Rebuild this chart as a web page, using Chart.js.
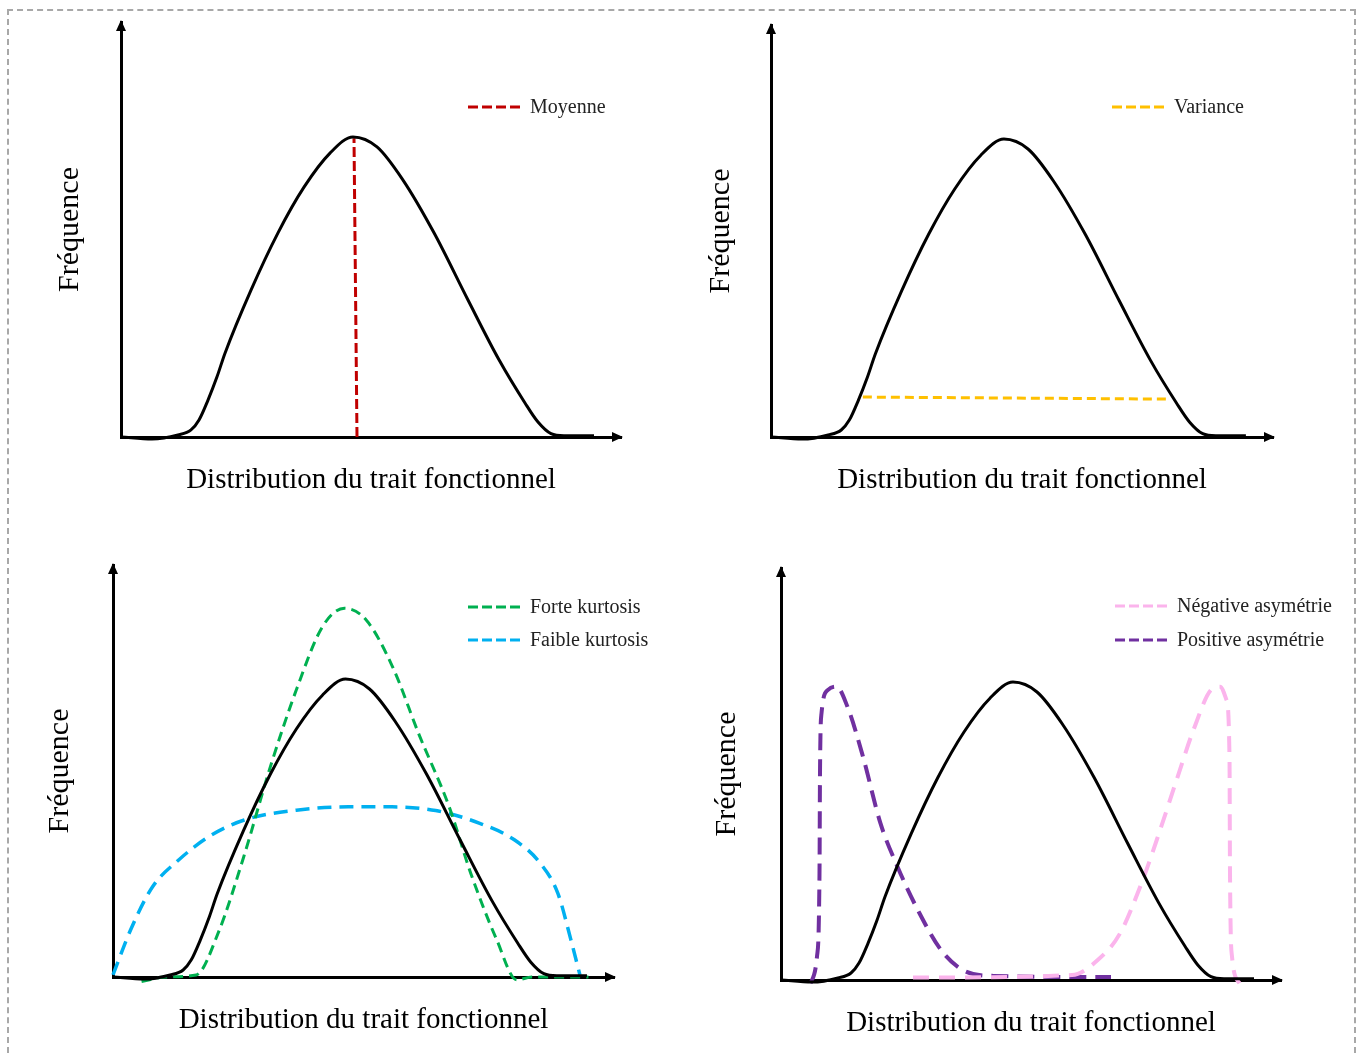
<!DOCTYPE html>
<html lang="fr">
<head>
<meta charset="UTF-8">
<title>Distribution du trait fonctionnel</title>
<script src="https://cdn.jsdelivr.net/npm/chart.js"></script>
<style>
    body { margin: 0; background: #fff; overflow: hidden; }
    #frame { position: absolute; left: 7px; top: 9px; width: 1345px; height: 1080px; border: 2px dashed #a8a8a8; }
    canvas { position: absolute; }
</style>
</head>
<body>
<div id="frame"></div>
<canvas id="c1"></canvas>
<canvas id="c2"></canvas>
<canvas id="c3"></canvas>
<canvas id="c4"></canvas>

<script>
    const xLabel = 'Distribution du trait fonctionnel';
    const yLabel = 'Fréquence';

    // reference bell curve (same in the 4 panels), x and y in % of the axes
    const bellX = [0, 6.2, 11.4, 14, 15.6, 17.4, 19.2, 20.8, 26, 31.4, 36.6, 41.8, 46.4, 51.2, 56.4, 62.6, 69.4, 75.6, 80.8, 83.4, 86, 88.6, 94.6];
    const bellY = [0, -0.5, 0.5, 1.7, 4.1, 8.9, 14.5, 20.2, 35.4, 49.2, 60.2, 68.4, 72.3, 69.9, 61.9, 49.2, 33, 18.6, 8.2, 3.6, 0.8, 0.3, 0.3];

    // panel 1 - moyenne
    const meanX = [47.2, 46.6];
    const meanY = [0, 72];

    // panel 2 - variance
    const varX = [18.3, 79.2];
    const varY = [9.7, 9.2];

    // panel 3 - kurtosis
    const forteX = [5.7, 10.5, 16.6, 21, 26.1, 31.4, 36.6, 41.8, 46.2, 50.5, 55.8, 61, 67.1, 71.4, 76.6, 80.6, 83.6, 94.9];
    const forteY = [-1.1, 0, 0.5, 10.7, 29.2, 51, 69.7, 85, 89.5, 86.7, 75.3, 59.1, 41.3, 25.2, 9, -0.7, 0, 0];
    const faibleX = [0, 3.5, 7.9, 13.1, 19.2, 26.2, 36.6, 47, 55.7, 64.4, 73.2, 80.1, 85.3, 88.8, 91.4, 93.2];
    const faibleY = [0.5, 11.4, 21.9, 28.4, 34.1, 38.1, 40.5, 41.3, 41.3, 40.4, 37.3, 33.3, 27.6, 20.3, 9, 0.5];

    // panel 4 - asymetrie
    const negX = [26.4, 58.2, 63.4, 67.8, 72.1, 75.6, 79.1, 82.5, 86, 87.8, 89.1, 89.7, 89.8, 90.2, 91.7];
    const negY = [0.6, 1.2, 4.9, 11.3, 23.5, 35.6, 48.5, 60.7, 70.4, 71.2, 68, 54.2, 25.9, 5.7, -0.8];
    const posX = [5.9, 7.2, 7.7, 7.8, 8.1, 9.4, 11.1, 13.3, 16.4, 19.9, 23.3, 27.7, 32, 36.4, 42.5, 66];
    const posY = [-0.8, 5.7, 25.9, 50.2, 64.7, 70.4, 71.2, 66.3, 54.2, 38, 27.5, 16.2, 7.3, 2.4, 1, 0.7];

    const pts = (xs, ys) => xs.map((x, i) => ({ x: x, y: ys[i] }));

    function bell() {
        return { data: pts(bellX, bellY), borderColor: '#000', borderWidth: 3, clip: false };
    }
    function dashed(label, xs, ys, color, dash, width) {
        return { label: label, data: pts(xs, ys), borderColor: color, borderWidth: width, borderDash: dash, clip: false };
    }

    // arrow heads at the end of both axes
    const arrows = {
        id: 'arrows',
        afterDraw(chart) {
            const { ctx, chartArea: a } = chart;
            ctx.save();
            ctx.fillStyle = '#000';
            ctx.beginPath();
            ctx.moveTo(a.right + 2, a.bottom);
            ctx.lineTo(a.right - 9, a.bottom - 5);
            ctx.lineTo(a.right - 9, a.bottom + 5);
            ctx.closePath();
            ctx.fill();
            ctx.beginPath();
            ctx.moveTo(a.left, a.top - 2);
            ctx.lineTo(a.left - 5, a.top + 9);
            ctx.lineTo(a.left + 5, a.top + 9);
            ctx.closePath();
            ctx.fill();
            ctx.restore();
        }
    };

    // legend drawn inside the plot with dashed samples
    const dashLegend = {
        id: 'dashLegend',
        afterDraw(chart, args, opts) {
            const { ctx, chartArea: a } = chart;
            const items = chart.data.datasets.filter(d => d.label);
            ctx.save();
            items.forEach((d, i) => {
                const x = a.left + opts.x;
                const y = a.top + opts.y + i * opts.gap;
                ctx.strokeStyle = d.borderColor;
                ctx.lineWidth = 3;
                ctx.setLineDash([10, 4]);
                ctx.beginPath();
                ctx.moveTo(x, y);
                ctx.lineTo(x + 52, y);
                ctx.stroke();
                ctx.setLineDash([]);
                ctx.fillStyle = '#222';
                ctx.font = '20px "Liberation Serif"';
                ctx.textBaseline = 'middle';
                ctx.fillText(d.label, x + 62, y + 1);
            });
            ctx.restore();
        }
    };

    const panels = [
        { id: 'c1', L: 121, R: 621, T: 22, B: 437, yTitleX: 70, xTitleY: 480, legend: { x: 347, y: 85, gap: 33 },
          datasets: [bell(), dashed('Moyenne', meanX, meanY, '#c00000', [10, 4], 3)] },
        { id: 'c2', L: 771, R: 1273, T: 25, B: 437, yTitleX: 721, xTitleY: 480, legend: { x: 341, y: 82, gap: 33 },
          datasets: [bell(), dashed('Variance', varX, varY, '#ffc000', [9, 5], 3)] },
        { id: 'c3', L: 113, R: 614, T: 565, B: 977, yTitleX: 60, xTitleY: 1020, legend: { x: 355, y: 42, gap: 33 },
          datasets: [bell(), dashed('Forte kurtosis', forteX, forteY, '#00b050', [10, 6], 3),
                     dashed('Faible kurtosis', faibleX, faibleY, '#00b0f0', [14, 8], 3.5)] },
        { id: 'c4', L: 781, R: 1281, T: 568, B: 980, yTitleX: 727, xTitleY: 1023, legend: { x: 334, y: 38, gap: 34 },
          datasets: [bell(), dashed('Négative asymétrie', negX, negY, '#fbb4ec', [16, 10], 4),
                     dashed('Positive asymétrie', posX, posY, '#7030a0', [17, 9], 4)] }
    ];

    panels.forEach(p => {
        const cx = p.yTitleX - 25;
        const cy = p.T - 20;
        const q1 = p.xTitleY - p.B - 14.5;
        const cw = p.R + 80 - cx;
        const ch = Math.ceil(p.B + 29 + q1 + 6 - cy);
        const q2 = ch + cy - p.B - 29 - q1;
        const canvas = document.getElementById(p.id);
        canvas.width = cw;
        canvas.height = ch;
        canvas.style.left = cx + 'px';
        canvas.style.top = cy + 'px';

        new Chart(canvas.getContext('2d'), {
            type: 'line',
            data: { datasets: p.datasets },
            plugins: [arrows, dashLegend],
            options: {
                responsive: false,
                animation: false,
                events: [],
                layout: { autoPadding: false, padding: { left: 0, top: 20, right: 80, bottom: 0 } },
                elements: { point: { radius: 0 }, line: { cubicInterpolationMode: 'monotone', borderCapStyle: 'butt' } },
                plugins: {
                    legend: { display: false },
                    tooltip: { enabled: false },
                    dashLegend: p.legend
                },
                scales: {
                    x: {
                        type: 'linear', min: 0, max: 100,
                        grid: { display: false, drawTicks: false },
                        ticks: { display: false },
                        border: { color: '#000', width: 3 },
                        title: { display: true, text: xLabel, color: '#000',
                                 font: { family: 'Liberation Serif', size: 29, lineHeight: 1 },
                                 padding: { top: q1, bottom: q2 } }
                    },
                    y: {
                        min: 0, max: 100,
                        grid: { display: false, drawTicks: false },
                        ticks: { display: false },
                        border: { color: '#000', width: 3 },
                        title: { display: true, text: yLabel, color: '#000',
                                 font: { family: 'Liberation Serif', size: 30, lineHeight: 1 },
                                 padding: { top: 10, bottom: p.L - cx - 40 } }
                    }
                }
            }
        });
    });
</script>
</body>
</html>
